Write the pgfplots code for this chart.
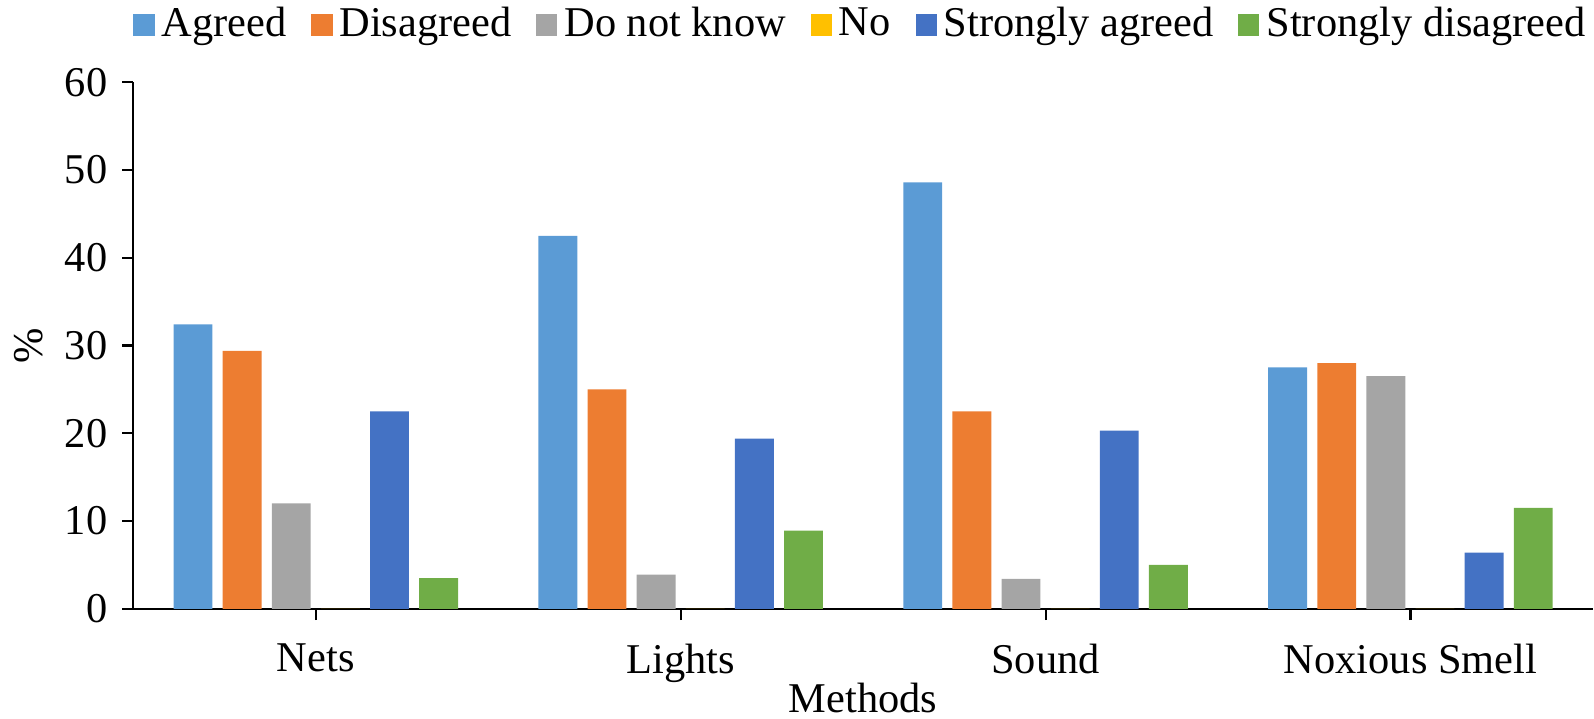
\documentclass[border=0pt]{standalone}
\usepackage{fontspec}
\setmainfont{Liberation Serif}
\usepackage{pgfplots}
\pgfplotsset{compat=1.18}

\definecolor{cAgreed}{HTML}{5B9BD5}
\definecolor{cDisagreed}{HTML}{ED7D31}
\definecolor{cDnk}{HTML}{A5A5A5}
\definecolor{cNo}{HTML}{FFC000}
\definecolor{cSAgreed}{HTML}{4472C4}
\definecolor{cSDisagreed}{HTML}{70AD47}

\begin{document}
\fontsize{12}{14}\selectfont
\begin{tikzpicture}
\begin{axis}[
    width=413pt, height=149pt,
    scale only axis,
    ybar=2.9pt,
    bar width=11pt,
    xmin=-0.5, xmax=3.5,
    ymin=0, ymax=60,
    ytick={0,10,...,60},
    xtick=data,
    xticklabels={Nets, Lights, Sound, Noxious Smell},
    axis x line*=bottom,
    axis y line*=left,
    tick align=outside,
    major tick length=3.2pt,
    tick style={black, line width=0.6pt},
    axis line style={black, line width=0.6pt},
    /pgf/number format/assume math mode=true,
    ticklabel style={font=\fontsize{12}{14}\selectfont},
    xticklabel style={yshift=-2.5pt},
    xlabel={Methods},
    ylabel={\%},
    xlabel style={yshift=5.5pt, inner sep=1.5pt},
    ylabel style={yshift=-2pt},
    legend style={
        draw=none, at={(0.5,1.06)}, anchor=south, inner sep=0pt,
        legend columns=-1,
        /tikz/every even column/.append style={column sep=5pt},
        font=\fontsize{12}{14}\selectfont,
    },
    legend image code/.code={
        \fill[#1] (0pt,-3pt) rectangle (6pt,3pt);
    },
    every axis plot/.append style={draw=none},
]
\addplot[fill=cAgreed] coordinates {(0,32.4) (1,42.5) (2,48.6) (3,27.5)};
\addplot[fill=cDisagreed] coordinates {(0,29.4) (1,25.0) (2,22.5) (3,28.0)};
\addplot[fill=cDnk] coordinates {(0,12.0) (1,3.9) (2,3.4) (3,26.5)};
\addplot[fill=cNo] coordinates {(0,0) (1,0) (2,0) (3,0)};
\addplot[fill=cSAgreed] coordinates {(0,22.5) (1,19.4) (2,20.3) (3,6.4)};
\addplot[fill=cSDisagreed] coordinates {(0,3.5) (1,8.9) (2,5.0) (3,11.5)};
\legend{Agreed, Disagreed, Do not know, No, Strongly agreed, Strongly disagreed}
\end{axis}
\end{tikzpicture}
\end{document}
